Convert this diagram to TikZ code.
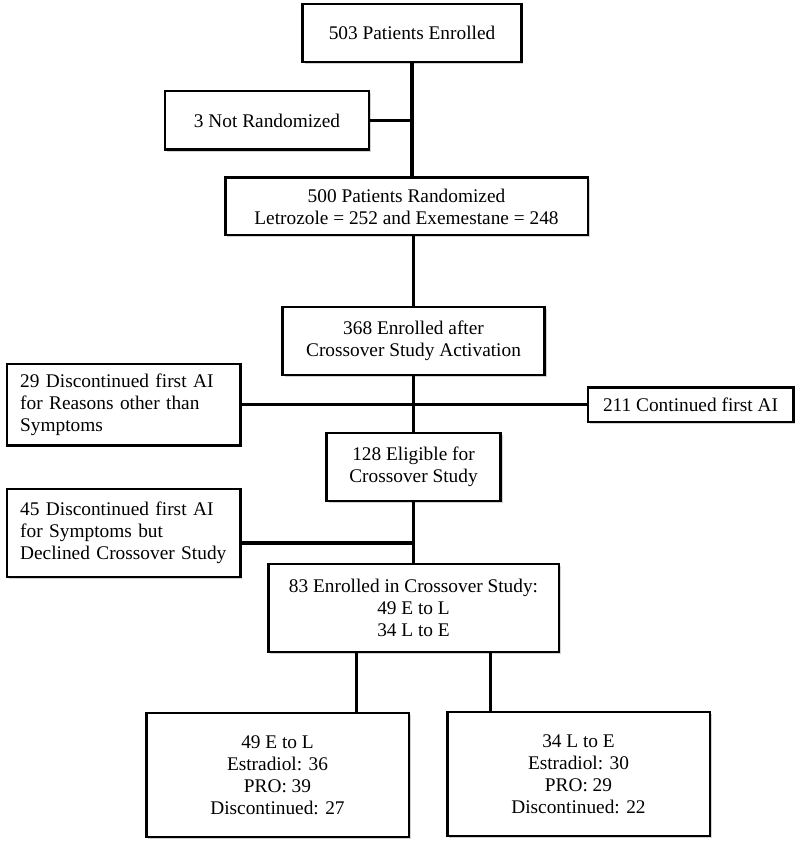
\documentclass[tikz,border=0pt]{standalone}
\usepackage{fontspec}
\setmainfont{Liberation Serif}
\usetikzlibrary{calc,shadows}

\tikzset{
  box/.style={draw, line width=2pt, fill=white, align=center, inner sep=4pt,
    font=\fontsize{14.5}{16.5}\selectfont,
    drop shadow={shadow xshift=1.5pt, shadow yshift=-1.5pt, opacity=.35}},
  sidebox/.style={box, align=left, text width=155pt, inner xsep=10pt},
  link/.style={line width=2.4pt}
}

\begin{document}
\begin{tikzpicture}[x=.75pt,y=-.75pt]
\useasboundingbox (0,0) rectangle (800,848);

% main column
\node[box, minimum width=164pt, minimum height=43.5pt] (enrolled) at (412,33) {503 Patients Enrolled};
\node[box, minimum width=153pt, minimum height=44pt] (notrand) at (267,120.5) {3 Not Randomized};
\node[box, minimum width=272pt, minimum height=43pt] (randomized) at (406.5,206.5)
  {500 Patients Randomized\\Letrozole = 252 and Exemestane = 248};
\node[box, minimum width=196.5pt, minimum height=51pt] (activation) at (413.5,341)
  {368 Enrolled after\\Crossover Study Activation};

% side boxes
\node[sidebox, minimum height=61pt] (discother) at (123.5,404.5)
  {29 Discontinued first AI\\for Reasons other than\\Symptoms};
\node[box, minimum width=154pt, minimum height=26pt] (continued) at (690.5,404.5) {211 Continued first AI};

\node[box, minimum width=130.5pt, minimum height=51pt] (eligible) at (413.5,467)
  {128 Eligible for\\Crossover Study};
\node[sidebox, minimum height=66pt] (declined) at (123.5,533)
  {45 Discontinued first AI\\for Symptoms but\\Declined Crossover Study};
\node[box, minimum width=218pt, minimum height=66pt] (crossover) at (413.5,608)
  {83 Enrolled in Crossover Study:\\49 E to L\\34 L to E};

% the two arms
\node[box, minimum width=197pt, minimum height=93pt] (etol) at (277.5,775)
  {49 E to L\\Estradiol: 36\\PRO: 39\\Discontinued: 27};
\node[box, minimum width=197pt, minimum height=93pt] (ltoe) at (578.5,774)
  {34 L to E\\Estradiol: 30\\PRO: 29\\Discontinued: 22};

% connectors
\draw[link] (enrolled.south) -- (enrolled.south |- randomized.north);
\draw[link] (notrand.east) -- (notrand.east -| enrolled.south);
\draw[link] (activation.north |- randomized.south) -- (activation.north);
\draw[link] (activation.south) -- (eligible.north);
\draw[link] (discother.east) -- (continued.west);
\draw[link] (eligible.south) -- (crossover.north);
\coordinate (declinedjoin) at ($(declined.east)+(0,10)$);
\draw[link] (declinedjoin) -- (declinedjoin -| eligible.south);
\draw[link] ([xshift=-43pt]crossover.south) -- ([xshift=-43pt]crossover.south |- etol.north);
\draw[link] ([xshift=58pt]crossover.south) -- ([xshift=58pt]crossover.south |- ltoe.north);

\end{tikzpicture}
\end{document}
